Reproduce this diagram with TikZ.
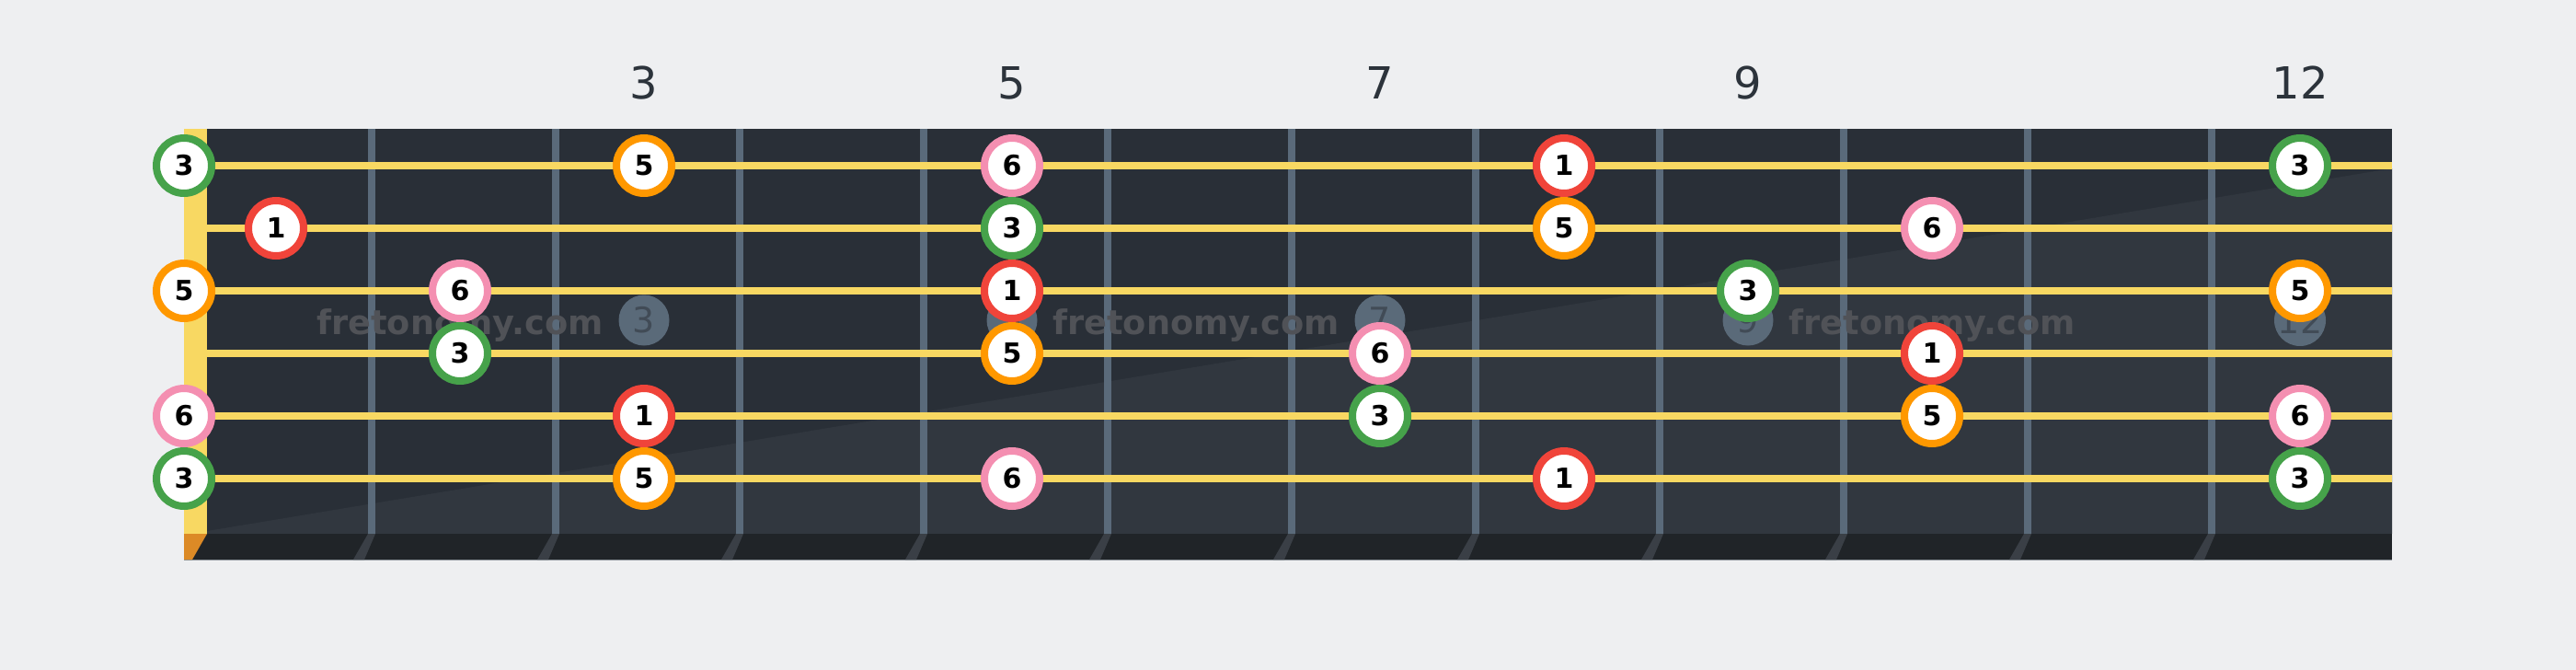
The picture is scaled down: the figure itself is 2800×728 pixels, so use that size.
\documentclass[tikz,border=0pt]{standalone}
\usepackage{fontspec}
\setmainfont{DejaVu Sans}
\definecolor{bg}{HTML}{EEEFF1}
\definecolor{board}{HTML}{292F37}
\definecolor{boardlight}{HTML}{31373F}
\definecolor{strip}{HTML}{202428}
\definecolor{stripline}{HTML}{8D9399}
\definecolor{nutc}{HTML}{F8D862}
\definecolor{nutbase}{HTML}{DC8A26}
\definecolor{fretc}{HTML}{5A6A7A}
\definecolor{fretbase}{HTML}{3A3F46}
\definecolor{inlayc}{HTML}{5A6A79}
\definecolor{inlaytext}{HTML}{414B56}
\definecolor{wmc}{HTML}{505257}
\definecolor{labelc}{HTML}{2C333B}
\definecolor{degone}{HTML}{F0443A}
\definecolor{degthree}{HTML}{46A24A}
\definecolor{degfive}{HTML}{FF9800}
\definecolor{degsix}{HTML}{F48FB1}
\tikzset{
  stringline/.style={draw=nutc, line width=8pt},
  note/.style={circle, fill=white, line width=8pt, minimum size=60pt, inner sep=0pt,
    font=\fontsize{30}{30}\selectfont\bfseries, text=black},
  n1/.style={draw=degone}, n3/.style={draw=degthree},
  n5/.style={draw=degfive}, n6/.style={draw=degsix},
  inlay/.style={circle, fill=inlayc, minimum size=55pt, inner sep=0pt,
    font=\fontsize{38}{38}\selectfont, text=inlaytext},
  fretnum/.style={font=\fontsize{48}{48}\selectfont, text=labelc, inner sep=0pt},
  watermark/.style={font=\fontsize{36.7}{37}\selectfont\bfseries, text=wmc, inner sep=0pt, anchor=base}
}
\begin{document}
\begin{tikzpicture}[x=1pt,y=-1pt]
\useasboundingbox[fill=bg] (0,0) rectangle (2800,728);
% board
\fill[board] (200,140) rectangle (2600,580);
\fill[boardlight] (225,577) -- (2600,183) -- (2600,580) -- (225,580) -- cycle;
\fill[strip] (200,580) rectangle (2600,608);
\draw[stripline, line width=1.5pt] (200,608.5) -- (2600,608.5);
% nut
\fill[nutc] (200,140) rectangle (225,580);
\fill[nutbase] (200,580) -- (225,580) -- (209,608) -- (200,608) -- cycle;
% frets
\foreach \k in {1,...,11} {
  \fill[fretc] ({200*\k+200},140) rectangle ({200*\k+208},580);
  \fill[fretbase] ({200*\k+200},580) -- ({200*\k+208},580) -- ({200*\k+196},608) -- ({200*\k+184},608) -- cycle;
}
% inlays
\foreach \f/\x in {3/700,5/1100,7/1500,9/1900,12/2500} {
  \node[inlay] (dot\f) at (\x,348) {\f};
  \node[fretnum] (lab\f) at (\x,90) {\f};
}
% watermarks
\node[watermark] (wm1) at (500,363) {fretonomy.com};
\node[watermark] (wm2) at (1300,363) {fretonomy.com};
\node[watermark] (wm3) at (2100,363) {fretonomy.com};
% strings
\foreach \y in {180,248,316,384,452,520} {
  \draw[stringline] (225,\y) -- (2600,\y);
}
% notes
\foreach \x/\y/\d in {200/180/3, 700/180/5, 1100/180/6, 1700/180/1, 2500/180/3,
  300/248/1, 1100/248/3, 1700/248/5, 2100/248/6,
  200/316/5, 500/316/6, 1100/316/1, 1900/316/3, 2500/316/5,
  500/384/3, 1100/384/5, 1500/384/6, 2100/384/1,
  200/452/6, 700/452/1, 1500/452/3, 2100/452/5, 2500/452/6,
  200/520/3, 700/520/5, 1100/520/6, 1700/520/1, 2500/520/3} {
  \node[note, n\d] (note-\x-\y) at (\x,\y) {\d};
}
\end{tikzpicture}
\end{document}
